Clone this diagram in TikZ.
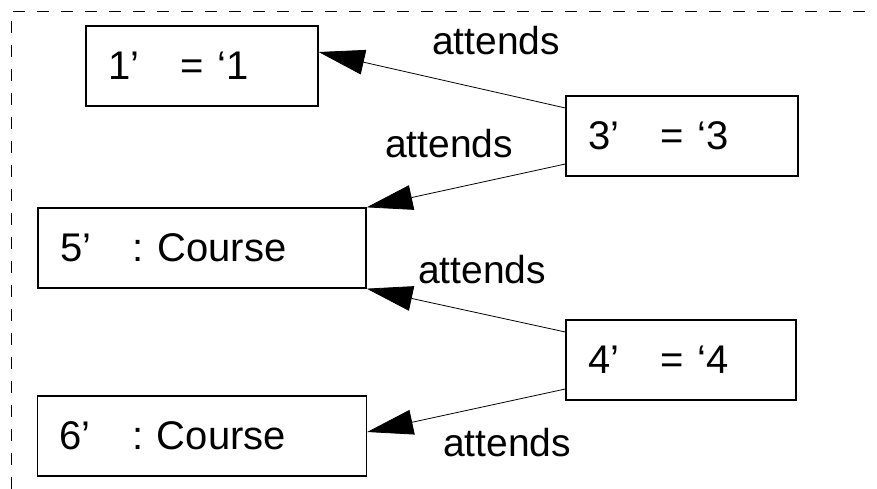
\documentclass[tikz,border=0pt]{standalone}
\usepackage{fontspec}
\setmainfont{Liberation Sans}
\usetikzlibrary{arrows.meta}
\tikzset{
	obj/.style={draw, line width=1.3pt, minimum height=80pt, inner xsep=22pt, align=left, font=\fontsize{40pt}{48pt}\selectfont},
	rel/.style={line width=0.8pt, -{Triangle[length=46pt, width=25pt]}},
	lbl/.style={inner sep=0pt, font=\fontsize{39pt}{47pt}\selectfont}
}
\newcommand{\fld}[2]{\makebox[73pt][l]{#1}#2}

\begin{document}
\begin{tikzpicture}[x=1pt, y=-1pt]
		%%%%% START %%%%%
		
		\useasboundingbox (0, 0) rectangle (877, 489);
		\draw[line width=0.8pt, dash pattern=on 12pt off 12pt] (11, 489) -- (11, 11) -- (877, 11);
		
		\node[obj, minimum width=232pt, text width=188pt] (one) at (202, 66) {\fld{1’}{= ‘1}};
		\node[obj, minimum width=232pt, text width=188pt] (three) at (682, 136) {\fld{3’}{= ‘3}};
		\node[obj, minimum width=328pt, text width=284pt] (five) at (202, 248) {\fld{5’}{:\ Course}};
		\node[obj, minimum width=230pt, text width=186pt] (four) at (681, 360) {\fld{4’}{= ‘4}};
		\node[obj, minimum width=329pt, text width=285pt] (six) at (202, 436) {\fld{6’}{:\ Course}};
		
		\draw[rel] ([yshift=28pt]three.west) -- ([yshift=14pt]one.east);
		\draw[rel] ([yshift=-28pt]three.west) -- (five.north east);
		\draw[rel] ([yshift=28pt]four.west) -- (five.south east);
		\draw[rel] ([yshift=-29pt]four.west) -- ([yshift=4pt]six.east);
		
		\node[lbl] (a1) at (496, 41) {attends};
		\node[lbl] (a2) at (449, 144) {attends};
		\node[lbl] (a3) at (482, 270) {attends};
		\node[lbl] (a4) at (507, 443) {attends};
		
		%%%%% END %%%%%
	\end{tikzpicture}
\end{document}
